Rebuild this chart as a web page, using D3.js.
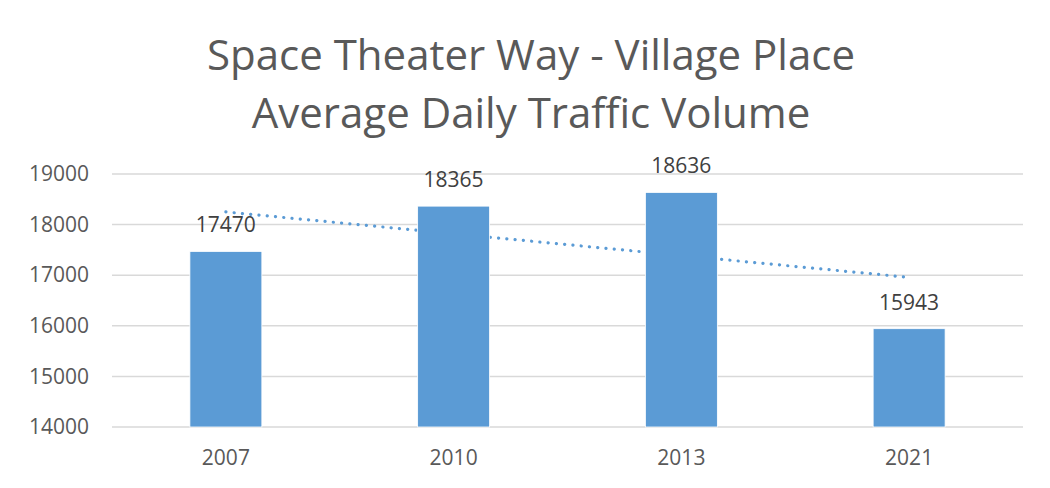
<!DOCTYPE html>
<html>
<head>
<meta charset="utf-8">
<script src="https://cdn.jsdelivr.net/npm/d3@7"></script>
<style>
  body { margin: 0; background: #fff; }
  text { font-family: "Open Sans", sans-serif; }
</style>
</head>
<body>
<svg id="chart"></svg>
<script>
// data
const years = ["2007", "2010", "2013", "2021"];
const volumes = [17470, 18365, 18636, 15943];
const yTicks = [14000, 15000, 16000, 17000, 18000, 19000];
const titleLines = ["Space Theater Way - Village Place", "Average Daily Traffic Volume"];

const width = 1050, height = 488;
const margin = { top: 174, right: 27, bottom: 61, left: 112 };

const svg = d3.select("#chart")
    .attr("width", width)
    .attr("height", height);

// title
svg.append("g")
  .selectAll("text")
  .data(titleLines)
  .enter()
  .append("text")
    .attr("x", 531)
    .attr("y", (d, i) => 70 + i * 58)
    .attr("text-anchor", "middle")
    .style("font-size", "42px")
    .style("fill", "#595959")
    .text(d => d);

const x = d3.scaleBand()
    .domain(years)
    .range([margin.left, width - margin.right])
    .paddingInner(0.684)
    .paddingOuter(0.342);

const y = d3.scaleLinear()
    .domain([14000, 19000])
    .range([height - margin.bottom, margin.top]);

// gridlines
svg.append("g")
  .selectAll("line")
  .data(yTicks)
  .enter()
  .append("line")
    .attr("x1", margin.left)
    .attr("x2", width - margin.right)
    .attr("y1", d => y(d))
    .attr("y2", d => y(d))
    .style("stroke", "#d9d9d9")
    .style("stroke-width", "1.5px");

// y axis labels
const yAxis = svg.append("g")
    .attr("transform", `translate(${margin.left},0)`)
    .call(d3.axisLeft(y).tickValues(yTicks).tickSize(0).tickPadding(23).tickFormat(d3.format("d")));
yAxis.select(".domain").remove();
yAxis.selectAll("text")
    .style("font-size", "21px")
    .style("fill", "#595959")
    .style("font-family", "Open Sans, sans-serif");

// x axis labels
const xAxis = svg.append("g")
    .attr("transform", `translate(0,${height - margin.bottom})`)
    .call(d3.axisBottom(x).tickSize(0).tickPadding(23));
xAxis.select(".domain").remove();
xAxis.selectAll("text")
    .style("font-size", "21px")
    .style("fill", "#595959")
    .style("font-family", "Open Sans, sans-serif");

// linear trendline (least squares on category index, like Excel)
const idx = volumes.map((d, i) => i + 1);
const mx = d3.mean(idx), my = d3.mean(volumes);
const slope = d3.sum(idx, (d, i) => (d - mx) * (volumes[i] - my)) / d3.sum(idx, d => (d - mx) * (d - mx));
const trend = idx.map(d => my + slope * (d - mx));

svg.append("path")
    .datum(trend)
    .attr("d", d3.line()
      .x((d, i) => x(years[i]) + x.bandwidth() / 2)
      .y(d => y(d)))
    .style("fill", "none")
    .style("stroke", "#5b9bd5")
    .style("stroke-width", "3.2px")
    .style("stroke-linecap", "round")
    .style("stroke-dasharray", "0.1 8.2");

// bars
svg.append("g")
  .selectAll("rect")
  .data(volumes)
  .enter()
  .append("rect")
    .attr("x", (d, i) => x(years[i]))
    .attr("width", x.bandwidth())
    .attr("y", d => y(d))
    .attr("height", d => y(14000) - y(d))
    .style("fill", "#5b9bd5")
    .style("stroke", "#ffffff")
    .style("stroke-width", "0.8px");

// value labels
svg.append("g")
  .selectAll("text")
  .data(volumes)
  .enter()
  .append("text")
    .attr("x", (d, i) => x(years[i]) + x.bandwidth() / 2)
    .attr("y", d => y(d) - 19)
    .attr("text-anchor", "middle")
    .style("font-size", "21px")
    .style("fill", "#404040")
    .text(d => d);
</script>
</body>
</html>
